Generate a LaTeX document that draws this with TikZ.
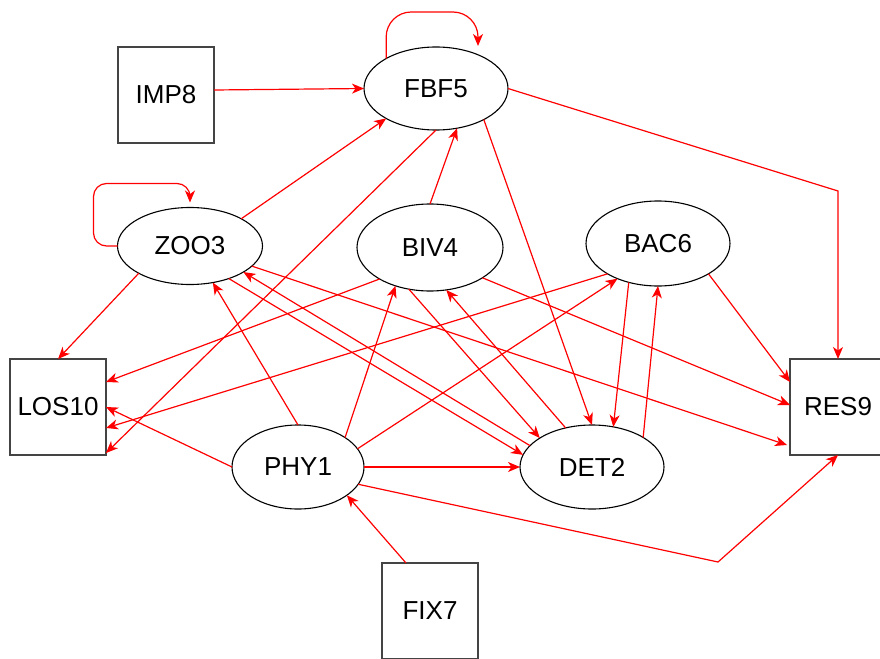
\documentclass[tikz,border=0pt]{standalone}
\usepackage{fontspec}
\setmainfont{Liberation Sans}
\usetikzlibrary{arrows.meta,shapes.geometric,calc}
\definecolor{boxgray}{HTML}{444444}
\definecolor{edgered}{HTML}{FF0000}
\begin{document}
\begin{tikzpicture}[x=1pt,y=-1pt,
  every node/.style={font=\fontsize{26}{30}\selectfont},
  oval/.style={ellipse,draw=black,line width=1.1pt,inner sep=0pt,outer sep=0pt},
  boxnode/.style={rectangle,draw=boxgray,line width=1.3pt,minimum width=96pt,minimum height=96pt,inner sep=0pt,outer sep=0pt},
  edge/.style={draw=edgered,line width=1.2pt,-{Stealth[length=12pt,width=10pt,inset=3.5pt]}},
]
\useasboundingbox (0,0) rectangle (880,658);
% nodes
\node[boxnode] (IMP8) at (166,95) {IMP8};
\node[boxnode] (LOS10) at (58,407) {LOS10};
\node[boxnode] (RES9) at (838,407) {RES9};
\node[boxnode] (FIX7) at (430,611) {FIX7};
\node[oval,minimum width=144pt,minimum height=83pt] (FBF5) at (436,88.5) {FBF5};
\node[oval,minimum width=145pt,minimum height=77pt] (ZOO3) at (190,246) {ZOO3};
\node[oval,minimum width=146pt,minimum height=87pt] (BIV4) at (430,247.5) {BIV4};
\node[oval,minimum width=144pt,minimum height=85pt] (BAC6) at (658,243.5) {BAC6};
\node[oval,minimum width=132pt,minimum height=84pt] (PHY1) at (298,467) {PHY1};
\node[oval,minimum width=144pt,minimum height=84pt] (DET2) at (592,467) {DET2};
% edges
\draw[edge] ([yshift=5pt]IMP8.east) -- (FBF5.west);
\draw[edge,rounded corners=25pt] (FBF5.149) |- ([xshift=42pt,yshift=35pt]FBF5.north) -- ([xshift=42pt,yshift=1pt]FBF5.north);
\draw[edge,rounded corners=13pt] (ZOO3.west) -- ++(-24,0) |- ([yshift=24pt]ZOO3.north) -- ([yshift=5pt]ZOO3.north);
\draw[edge] (FBF5.east) -- ([yshift=168pt]RES9.north) -- (RES9.north);
\draw[edge] (ZOO3.28) -- (FBF5.211);
\draw[edge] (FBF5.south) -- ([yshift=2pt]LOS10.south east);
\draw[edge] (BIV4.north) -- (FBF5.-62);
\draw[edge] (FBF5.-33) -- (DET2.north);
\draw[edge] (ZOO3.208) -- (LOS10.north);
\draw[edge] (BIV4.212) -- ([yshift=25pt]LOS10.east);
\draw[edge] (BAC6.211) -- ([yshift=-21pt]LOS10.east);
\draw[edge] (PHY1.west) -- (LOS10.east);
\draw[edge] (PHY1.north) -- (ZOO3.-58);
\draw[edge] (PHY1.32) -- (BIV4.228);
\draw[edge] (PHY1.17) -- (BAC6.221);
\draw[edge] (PHY1.east) -- (DET2.west);
\draw[edge] (PHY1.-16) -- ([xshift=-120pt,yshift=-107pt]RES9.south) -- (RES9.south);
\draw[edge] ([xshift=-24pt]FIX7.north) -- (PHY1.-30);
\draw[edge] (DET2.161) -- (ZOO3.-26);
\draw[edge] (ZOO3.-40) -- (DET2.170);
\draw[edge] (ZOO3.-18) -- ([xshift=-3pt,yshift=-38pt]RES9.west);
\draw[edge] (BIV4.-30) -- ([yshift=2pt]RES9.west);
\draw[edge] (BAC6.-31) -- ([yshift=25pt]RES9.west);
\draw[edge] (BIV4.243) -- (DET2.151);
\draw[edge] (DET2.124) -- (BIV4.-69);
\draw[edge] (BAC6.233) -- (DET2.62);
\draw[edge] (DET2.30) -- (BAC6.south);
\end{tikzpicture}
\end{document}
